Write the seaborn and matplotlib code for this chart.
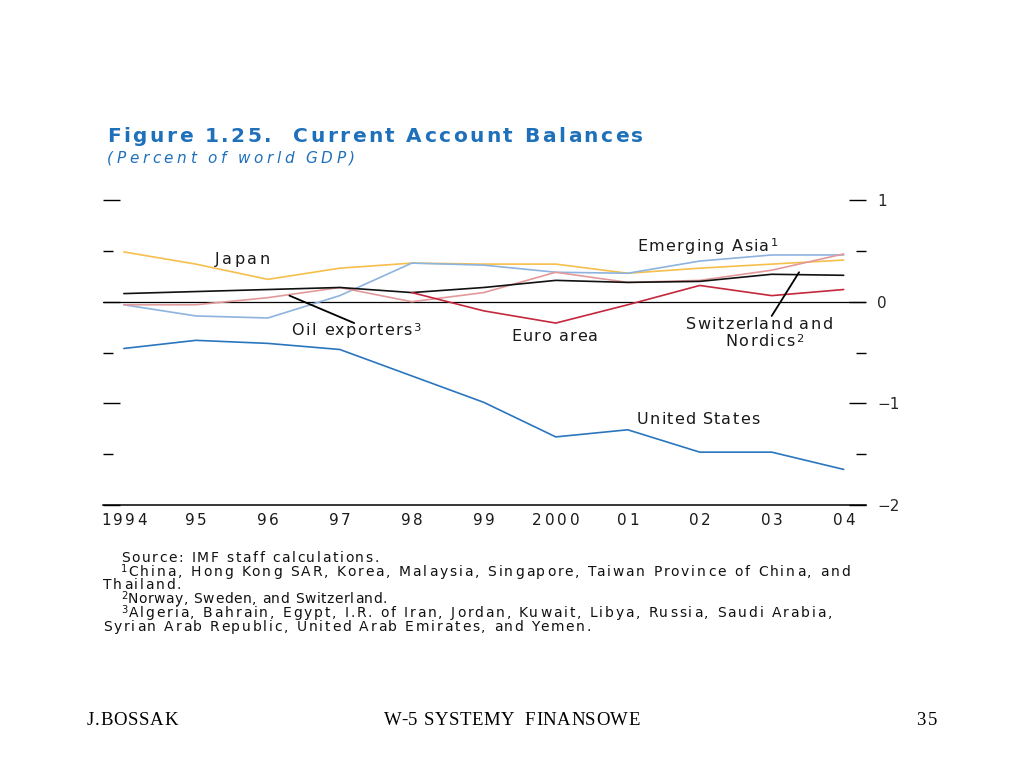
import pandas as pd
import numpy as np
import matplotlib
matplotlib.use('Agg')
import matplotlib.pyplot as plt
import matplotlib.transforms as mtransforms
from matplotlib.textpath import TextToPath
from matplotlib.font_manager import FontProperties
import seaborn as sns

sns.set_style('white')
SANS = ['DejaVu Sans']
SERIF = ['Liberation Serif', 'DejaVu Serif']
plt.rcParams['font.family'] = SANS
plt.rcParams['axes.unicode_minus'] = True
DPI = 100

# dane (procent światowego PKB)
years = [1994, 1995, 1996, 1997, 1998, 1999, 2000, 2001, 2002, 2003, 2004]
year_labels = ['1994', '95', '96', '97', '98', '99', '2000', '01', '02', '03', '04']
united_states = [-0.46, -0.38, -0.41, -0.47, -0.73, -0.99, -1.33, -1.26, -1.48, -1.48, -1.65]
japan = [0.49, 0.37, 0.22, 0.33, 0.38, 0.37, 0.37, 0.28, 0.33, 0.37, 0.41]
emerging_asia = [-0.03, -0.14, -0.16, 0.06, 0.38, 0.36, 0.29, 0.28, 0.40, 0.46, 0.46]
oil_exporters = [-0.03, -0.03, 0.04, 0.14, 0.00, 0.09, 0.29, 0.19, 0.21, 0.31, 0.47]
swiss_nordics = [0.08, 0.10, 0.12, 0.14, 0.09, 0.14, 0.21, 0.19, 0.20, 0.27, 0.26]
euro_area = [np.nan, np.nan, np.nan, np.nan, 0.09, -0.09, -0.21, -0.03, 0.16, 0.06, 0.12]

series = {
    'United States': united_states,
    'Japan': japan,
    'Emerging Asia': emerging_asia,
    'Oil exporters': oil_exporters,
    'Switzerland and Nordics': swiss_nordics,
    'Euro area': euro_area,
}
colors = {
    'United States': '#2a76be',
    'Japan': '#f6bf4c',
    'Emerging Asia': '#8db3df',
    'Oil exporters': '#e3999a',
    'Switzerland and Nordics': '#111111',
    'Euro area': '#c4283c',
}

df = pd.DataFrame([
    {'year': y, 'value': v, 'region': name}
    for name, vals in series.items()
    for y, v in zip(years, vals)
]).dropna()

fig = plt.figure(figsize=(10.24, 7.68), dpi=DPI)
ax = fig.add_axes([103 / 1024, 1 - 505 / 768, (866 - 103) / 1024, (505 - 195) / 768])

_ttp = TextToPath()
SUPERS = {'\u00b9': '1', '\u00b2': '2', '\u00b3': '3'}


def _w(s, prop):
    # szerokość (obrys) tekstu w pikselach
    return _ttp.get_text_width_height_descent(s, prop, ismath=False)[0] * DPI / 72


def spaced_text(x, y, s, width, transform, size=10, ha='left', vcenter=True,
                family=SANS, weight='normal', style='normal', color='#1a1a1a'):
    """Tekst z rozstrzeloną czcionką (obraz źródłowy jest rozciągnięty w poziomie)."""
    prop = FontProperties(family=family, size=size, weight=weight, style=style)
    sprop = FontProperties(family=family, size=size * 0.72, weight=weight, style=style)
    natural = _w(s, prop)
    track = (width - natural) / max(len(s) - 1, 1)
    start = {'left': 0, 'center': -width / 2, 'right': -width}[ha]
    em = size * DPI / 72
    dy = -0.365 * em if vcenter else 0
    for i, c in enumerate(s):
        if c == ' ':
            continue
        ink_left = _w(s[:i + 1], prop) - _w(c, prop)
        xo = start + ink_left + i * track
        if c in SUPERS:
            tr = mtransforms.offset_copy(transform, fig=fig, x=xo, y=dy + 0.26 * em, units='dots')
            fig.text(x, y, SUPERS[c], transform=tr, fontproperties=sprop, color=color,
                     ha='left', va='baseline')
        else:
            tr = mtransforms.offset_copy(transform, fig=fig, x=xo, y=dy, units='dots')
            fig.text(x, y, c, transform=tr, fontproperties=prop, color=color,
                     ha='left', va='baseline')


sns.lineplot(data=df, x='year', y='value', hue='region', palette=colors,
             hue_order=list(series.keys()), estimator=None, linewidth=1.2,
             legend=False, ax=ax)
ax.axhline(0, color='black', lw=0.9, zorder=1)

ax.set_xlim(1993.71, 2004.31)
ax.set_ylim(-2, 1.05)
ax.set_xlabel('')
ax.set_ylabel('')

for s in ['top', 'left', 'right']:
    ax.spines[s].set_visible(False)
ax.spines['bottom'].set_color('black')
ax.spines['bottom'].set_linewidth(1.1)

ax.set_xticks(years)
ax.set_xticklabels([])
ax.tick_params(axis='x', direction='in', length=6, width=1.1, color='black')

ax.set_yticks([-2, -1, 0, 1])
ax.set_yticks([-1.5, -0.5, 0.5], minor=True)
ax.set_yticklabels(['\u22122', '\u22121', '0', '1'], fontsize=11)
ax.tick_params(axis='y', which='major', direction='in', length=12.5, width=1.0,
               color='black', left=True, right=True, labelleft=False,
               labelright=True, pad=8)
ax.tick_params(axis='y', which='minor', direction='in', length=7, width=1.0,
               color='black', left=True, right=True)
ax.grid(False)

# podpisy osi X
xlab_tr = mtransforms.blended_transform_factory(ax.transData, fig.transFigure)
xlab_w = {'1994': 46, '2000': 48}
for yr, lab in zip(years, year_labels):
    spaced_text(yr, 1 - 519 / 768, lab, xlab_w.get(lab, 22), xlab_tr, size=11, ha='center')

# etykiety serii
td = ax.transData
lab = dict(size=11.5)
spaced_text(1995.26, 0.43, 'Japan', 55, td, **lab)
spaced_text(2001.13, 0.56, 'Emerging Asia\u00b9', 140, td, **lab)
spaced_text(1996.33, -0.27, 'Oil exporters\u00b3', 128, td, **lab)
spaced_text(1999.38, -0.33, 'Euro area', 87, td, **lab)
spaced_text(2001.81, -0.215, 'Switzerland and', 146, td, **lab)
spaced_text(2002.35, -0.375, 'Nordics\u00b2', 78, td, **lab)
spaced_text(2001.13, -1.15, 'United States', 122, td, **lab)
ax.plot([1997.2, 1996.3], [-0.21, 0.06], color='black', lw=1.3)
ax.plot([2003.0, 2003.38], [-0.14, 0.29], color='black', lw=1.3)

# tytuł
tf = fig.transFigure
spaced_text(107 / 1024, 1 - 142 / 768, 'Figure 1.25.  Current Account Balances', 536, tf,
            size=14.5, weight='bold', color='#1f70bb', vcenter=False)
spaced_text(107 / 1024, 1 - 157 / 768, '(Percent of world GDP)', 248, tf,
            size=11, style='italic', color='#1f70bb')

# przypisy
notes = [
    (121, 557, 'Source: IMF staff calculations.', 258),
    (121, 571, '\u00b9China, Hong Kong SAR, Korea, Malaysia, Singapore, Taiwan Province of China, and', 729),
    (103, 584, 'Thailand.', 78),
    (121, 598, '\u00b2Norway, Sweden, and Switzerland.', 266),
    (121, 612, '\u00b3Algeria, Bahrain, Egypt, I.R. of Iran, Jordan, Kuwait, Libya, Russia, Saudi Arabia,', 711),
    (103, 626, 'Syrian Arab Republic, United Arab Emirates, and Yemen.', 488),
]
for x, y, t, w in notes:
    spaced_text(x / 1024, 1 - y / 768, t, w, tf, size=10, color='#111111')

# stopka slajdu
foot = dict(size=13.5, family=SERIF, color='black')
spaced_text(87 / 1024, 1 - 718 / 768, 'J.BOSSAK', 91, tf, **foot)
spaced_text(384 / 1024, 1 - 718 / 768, 'W-5 SYSTEMY  FINANSOWE', 256, tf, **foot)
spaced_text(916 / 1024, 1 - 718 / 768, '35', 21, tf, **foot)

fig.savefig('out.png', dpi=DPI)
